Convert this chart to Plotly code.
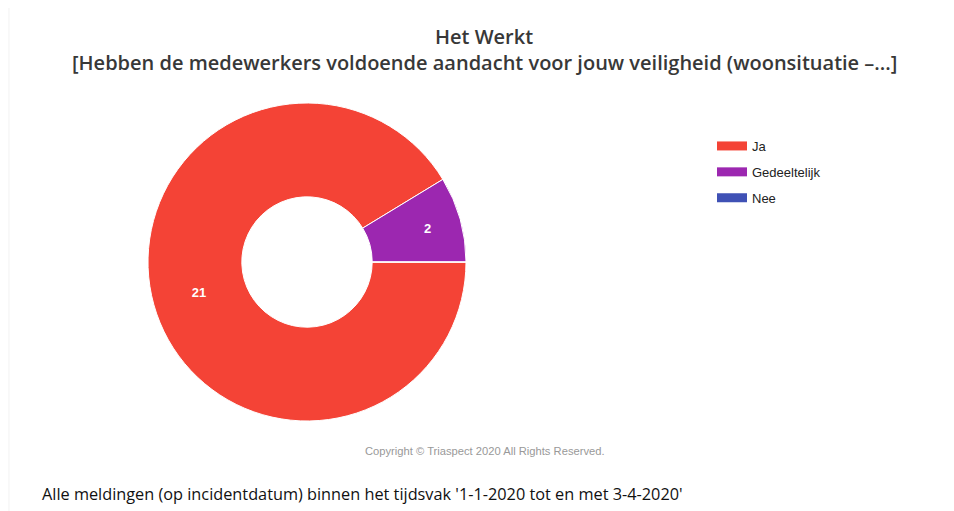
import plotly.graph_objects as go

# data
labels = ["Ja", "Gedeeltelijk", "Nee"]
counts = [21, 2, 0]
colors = ["#F44336", "#9C27B0", "#3F51B5"]

title_line1 = "Het Werkt"
title_line2 = "[Hebben de medewerkers voldoende aandacht voor jouw veiligheid (woonsituatie –...]"
copyright_txt = "Copyright © Triaspect 2020 All Rights Reserved."
footer_txt = "Alle meldingen (op incidentdatum) binnen het tijdsvak '1-1-2020 tot en met 3-4-2020'"

# the page body adds an 8px margin, so the figure is sized to the remaining area
OX, OY = 8, 8
W, H = 954 - OX, 511 - OY


def px(x):
    return (x - OX) / W


def py(y):
    return 1 - (y - OY) / H


# pie: centre (307, 262), radius 159 in page pixels
CX, CY, R = 307, 262, 159

fig = go.Figure()

fig.add_trace(go.Pie(
    labels=labels,
    values=counts,
    marker=dict(colors=colors, line=dict(color="#FFFFFF", width=1)),
    hole=0.41,
    sort=False,
    direction="clockwise",
    rotation=90,
    textinfo="value",
    textposition="inside",
    insidetextorientation="horizontal",
    textfont=dict(family="Arial, Liberation Sans", size=13, color="#FFFFFF", weight="bold"),
    showlegend=False,
    domain=dict(x=[px(CX - R), px(CX + R)], y=[py(CY + R), py(CY - R)]),
    hoverinfo="label+value+percent",
))

# legend entries: wide swatches like the original chart
for lab, col in zip(labels, colors):
    fig.add_trace(go.Scatter(
        x=[None], y=[None], mode="lines", name=lab,
        line=dict(color=col, width=9),
        legendgroup=lab, hoverinfo="skip",
    ))

fig.update_layout(
    width=W, height=H,
    margin=dict(l=0, r=0, t=0, b=0),
    paper_bgcolor="#FFFFFF",
    plot_bgcolor="#FFFFFF",
    xaxis=dict(visible=False),
    yaxis=dict(visible=False),
    showlegend=True,
    legend=dict(
        x=px(712), y=py(131), xanchor="left", yanchor="top",
        font=dict(family="Arial, Liberation Sans", size=13, color="#222222"),
        traceorder="grouped", tracegroupgap=6,
        bgcolor="rgba(0,0,0,0)",
    ),
    font=dict(family="Arial, Liberation Sans"),
    annotations=[
        dict(text=title_line1, x=px(484), y=py(36), xref="paper", yref="paper",
             showarrow=False, xanchor="center", yanchor="middle",
             font=dict(family="Open Sans", size=20, color="#383838", weight=600)),
        dict(text=title_line2, x=px(484), y=py(63), xref="paper", yref="paper",
             showarrow=False, xanchor="center", yanchor="middle",
             font=dict(family="Open Sans", size=20, color="#383838", weight=600)),
        dict(text=copyright_txt, x=px(485), y=py(451), xref="paper", yref="paper",
             showarrow=False, xanchor="center", yanchor="middle",
             font=dict(family="Arial, Liberation Sans", size=11.2, color="#999999")),
        dict(text=footer_txt, x=px(40), y=py(494), xref="paper", yref="paper",
             showarrow=False, xanchor="left", yanchor="middle",
             font=dict(family="Open Sans", size=16.3, color="#111111")),
    ],
    shapes=[
        dict(type="line", xref="paper", yref="paper", x0=0.001, x1=0.001, y0=0, y1=1,
             line=dict(color="#F2F2F2", width=1)),
    ],
)

fig.write_html("out.html")
